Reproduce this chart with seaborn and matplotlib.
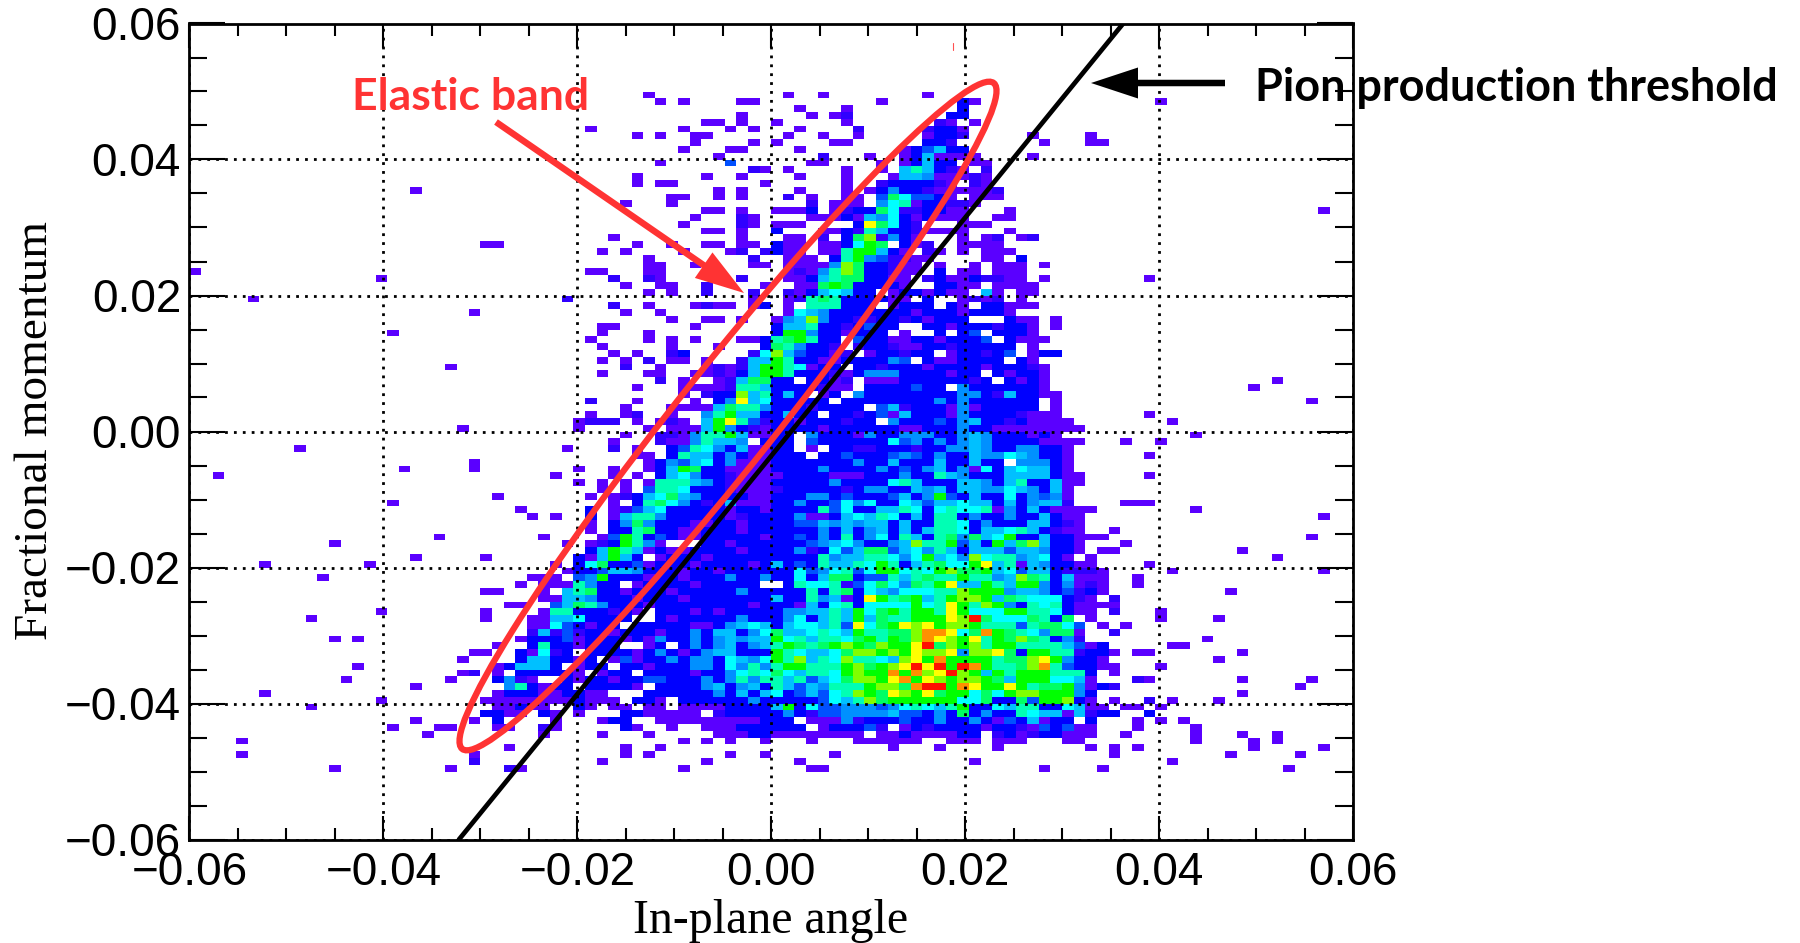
import numpy as np
import matplotlib
matplotlib.use('Agg')
import matplotlib.pyplot as plt
from matplotlib.colors import ListedColormap
from matplotlib.patches import Ellipse, FancyArrow
from matplotlib.ticker import MultipleLocator
import seaborn as sns

# 2D histogram, 100 x bins (0.0012) by 120 y bins (0.001)
# each string: rows from the top, columns 30-79 in groups of ten, hex colour level, . = empty
upper_rows = [
    ".........1 . .1..1..... ...1......",
    ". 1.1....11. .........1 ......31..",
    ". . ..1...1... ......3...",
    ". .......1.. ...1.12... .....33...",
    ". ....11.1.. 1.....1... ....21.1..",
    "....1..... ..1...1.1. ..1....2.. ...2331...",
    "........1. 1..11..... .1..1..1.. ...1332... ..1....1",
    ". ...1....1. 1....11... ...332.... ...1...11",
    ". ..1...11.. ..1....... .134633...",
    ". .....1.... ....2...1. .1361111.. ..1",
    ". 1.....4... ...11....1 .13633.11.",
    ". ........21 .1....1..1 .686321.2.",
    "........1. ....1..1.. ..1...1... 166511121.",
    "........1. 11.......1 ......1..2 333321.21.",
    ". .....1.1.. ..1...1.13 5332111112",
    ". .11..1.1.. .2.1..11.4 974431.111",
    ".......1.. .1........ ...2.111.5 78133221..",
    ". ....11.1.. 1113.12339 7223311... 1",
    ". ...1...21. ...1113165 7313111..1 1",
    ". ..1....21. 111....3c9 732...111.",
    ". ....11.1.. 3...113286 3321111... 1",
    "......1... .......1.. .11.2.39b2 531...1.12 .12",
    "........1. .1..11.11. 311.1137a9 .312..1111",
    ".....1.1.. ..1...12.2 311.118aa6 31.21.1.11 1",
    ".........1 ........2. .111.38a54 2211....11 .3",
    ".........1 1..1....11 .11115b933 211.1..1.1 11.1",
    "....11...1 1......... .12158b933 211.3.11.1 11",
    "......2..2 1......2.. .113689933 11.2311322 11.1",
    ".......1.. 11..2....1 ..119a9333 31..3311.1 111",
    ".........1 .1..2...2. .21367633. 1331311.61 .11",
]
middle_rows = [
    "..2....... ........1. .128983333 11.3..1212 .1",
    "......2..1 ...1211.13 .1.888333. 1333.31.33 111",
    ".......1.. 1......... .176533333 3313331333 1",
    ". .1..11.1.. 156b533223 3231333... 311.1",
    ".....11... ...1...... 3668332343 3..3313332 331.1",
    ".....1...1 . 3aa5331333 .1..3.34.3 331",
    "....1....1 .1.1...113 89a833.433 113313334. 3111",
    ".....1.... .1...1...3 985332.233 2113323333 3.1",
    "......1.1. .23.....27 b643312.13 3233.13323 4.133",
    ".....1.1.2 .11.1..266 a833113333 54.3113333 .31",
    ".......2.. 1...12126a a87133.332 3331333313 3321",
    ".....1...1 1..112136a a833321355 53333133.3 1331",
    ". 2.1..12699 33.3312.11 133333323. 3131",
    "........1. ..11112886 3333211.33 33433.5333 3331",
    ". ..1.233b68 363.13.533 3333335532 63311",
    "....2...1. ...1.35c67 33333.3333 3333535333 333.1",
    ".......1.. .111169885 33323333.4 6233315133 333.1",
    "....1..12. .1..58a663 3633.33234 1633315333 32111",
    "...1222.1. 121.6ac842 331333233. 5333435633 231111",
    "...1.....1 .1116a5321 3333133333 3113335331 1111111",
    ".......1.. 221588a611 33.5333153 3555335653 33131",
    "......1... 21158665.3 33.4333333 7453535653 3331111",
    "..1...2.1. .348753611 33.1.33223 3323355653 355331",
    "........11 .386635311 333.334333 4543533655 765331",
    ".........1 3546735111 3333333533 6333633633 .55531",
    "...1..1..1 36a9331111 3333533335 3435635173 676631",
    ".1....1.1. 3675332111 1333311133 3533865333 6666311",
    "...1.1.1.1 8886532111 3333353333 7863336653 6833611",
    ".....1.1.4 8873332111 2333332355 3365636655 765361",
    "....1.1236 7965333311 3335534333 4635a43633 735451",
]
lower_rows = [
    "......1.38 9753236111 3353347573 3764667663 635662",
    "....3.1246 7333331331 3333847336 6873787781 53631111",
    ".1..3.1688 5333331233 3351136768 7363883533 5336311",
    "....1.3595 3331133133 3344656566 3633887353 3366321",
    "....1.3389 3311333133 3333536356 3636887366 7863211..1",
    "1....14a83 4311333331 3343538357 3863895967 a33633111",
    "..1.123a85 1...331333 3334567533 56b88a463a 69b6331",
    "....36a861 3113333133 3352374699 4675863666 4665331.11",
    "...316a63. 1333133333 3333856688 757a675b78 856731.1",
    ".1.3793341 3331333313 634386687a 8368977ac6 81653311",
    "..13346653 3313313333 337457847a a787ab99a6 746632221",
    "11.45a3331 3313335335 3373699344 868988a885 6b9836111",
    "1118533.13 333133333. .387782479 7598ac66a8 6aa535121",
    "1.68933133 3133333533 3338389376 577788baaa 566534231",
    "1166533313 3313333333 63385613ca 89a68abba6 98777321.2",
    ".469853331 3333333313 3316378377 77a78ca8ba 5387831111",
    "188333231. 3331313333 3556686a79 a8aa8ca777 aa887311.2",
    "16673333.. 3133333533 3573686a69 88aaacbe97 779839.1",
    "1743133.33 3331135676 3677684c79 acbcabba88 8489974.1.",
    "6242331333 1335366357 9667876a88 99bddc79da 9875991..2",
    "3341333131 5335356566 a7868879a8 a9bdcbac8a 9b98352",
    "8331333..1 3.35356356 8a989aba9b aace9bab8a a88886413",
    "723.333313 5313566333 a876679bba bacbbc5bbc 93aa882331",
    "63313.1413 3535537657 a8b687b887 6bcadaaaa8 99bca5331",
    "63.133.331 3335537585 8aa888ab9a bceceaeda8 89bd843311",
    "3331.133.3 3331335787 976887abaa dadbceba6a 8aaa8883.1",
    "..31331334 4333535858 8684679bba cdacbabba9 6aaa7761",
    "133.33331. 3333563563 86465888ab b9deeadcaa ca899a5132",
    "113311...3 3333353636 7346478ba9 cbac9aa797 abbaaa53",
    "1113111.33 1.33333353 33334768b9 aaaaaa7793 394aab31.1",
    "1..31.11.1 1.11113333 6a37445554 578768a337 688337611",
    "31.1...331 1111.23333 3532445555 6443539353 3876616233",
    ".1...133.. 1111111113 33.1115233 3433533531 436133.3",
    "21.....31. .1..111333 333.133342 .132333313 32143411",
    "1....1...1 .....11133 11111111.1 13111133.2 31233111",
    ". ..1.1.1..1 ...1...111 111..111.1 11...11",
    ".......1.. 1......... . 1...1....1 .......1.1",
    ".......1.1 ......1..1 .....1.... . .........1",
    ".....1.... ....1..... ..1....... .......1..",
    ". ..1....... ...11..... . ...1....1.",
]
first_row = 10

# bins outside columns 30-79
left_col = [19, 25, 26, 0, 16, 5, 24, 17, 22, 23, 9, 24, 18, 24, 2, 26, 17, 28, 29, 21, 12, 19, 25, 6, 15,
            29, 11, 28, 25, 26, 27, 28, 16, 25, 25, 10, 29, 29, 12, 14, 28, 29, 29, 26, 29, 24, 25, 28, 29,
            23, 28, 29, 14, 26, 27, 28, 29, 23, 24, 26, 28, 29, 13, 22, 26, 27, 28, 29, 19, 27, 28, 29, 6,
            26, 27, 28, 29, 16, 25, 26, 27, 28, 29, 10, 26, 27, 28, 29, 25, 26, 27, 28, 19, 24, 26, 17, 21,
            22, 26, 27, 20, 4, 27, 4, 24, 24, 12, 22, 27, 28]
left_row = [24, 32, 32, 36, 37, 40, 42, 45, 50, 59, 62, 64, 65, 65, 66, 69, 70, 71, 72, 75, 76, 78, 78, 79, 79,
            81, 81, 82, 83, 83, 85, 85, 86, 86, 87, 87, 87, 88, 90, 90, 90, 90, 89, 91, 91, 92, 92, 92, 92,
            93, 93, 93, 94, 94, 94, 94, 94, 95, 95, 95, 95, 95, 96, 96, 96, 96, 96, 96, 97, 97, 97, 97, 98,
            98, 98, 98, 98, 99, 99, 99, 99, 99, 99, 100, 100, 100, 100, 100, 101, 101, 101, 101, 102, 102, 102, 103, 103,
            103, 103, 103, 104, 105, 106, 107, 107, 108, 109, 109, 109, 109]
left_level = [1, 1, 1, 1, 1, 1, 1, 1, 1, 1, 1, 1, 1, 1, 1, 1, 1, 1, 1, 1, 1, 1, 1, 1, 1,
              1, 1, 1, 1, 1, 1, 1, 1, 1, 1, 1, 1, 1, 1, 1, 1, 3, 2, 1, 3, 1, 1, 3, 1,
              1, 3, 6, 1, 1, 3, 6, 6, 1, 2, 1, 3, 3, 1, 1, 3, 5, 2, 1, 1, 5, 8, 3, 1,
              1, 3, 3, 3, 1, 1, 1, 1, 1, 1, 1, 1, 1, 3, 1, 3, 3, 1, 1, 1, 1, 3, 1, 1,
              1, 1, 1, 1, 1, 1, 1, 1, 2, 1, 1, 2, 1]

right_col = [83, 97, 82, 86, 84, 82, 96, 91, 93, 80, 83, 82, 82, 80, 81, 82, 86, 97, 96, 80, 90, 93, 82, 84, 97,
             81, 81, 89, 83, 83, 88, 80, 87, 84, 85, 81, 82, 90, 88, 83, 81, 82, 90, 96, 95, 90, 82, 84, 88,
             80, 81, 83, 82, 81, 83, 85, 81, 86, 80, 86, 90, 93, 86, 91, 93, 81, 91, 97, 89, 95, 84, 94]
right_row = [11, 27, 37, 60, 58, 57, 55, 53, 52, 61, 61, 63, 66, 70, 70, 70, 71, 72, 75, 76, 77, 78, 79, 80, 80,
             81, 82, 83, 86, 87, 87, 88, 90, 91, 91, 92, 92, 92, 93, 94, 96, 96, 96, 96, 97, 98, 99, 99, 99,
             100, 100, 100, 101, 102, 102, 102, 103, 103, 104, 104, 104, 104, 105, 105, 105, 106, 106, 106, 107, 107, 108, 109]
right_level = [1] * 40 + [2] + [1] * 5 + [2] + [1] * 5 + [3] + [1] * 19

level_colors = ['#5a00ff', '#3000ff', '#0000ff', '#0050ff', '#0090ff', '#00c0ff', '#00ffff',
                '#00ffb4', '#00ff64', '#00ff00', '#80ff00', '#ffff00', '#ff9000', '#ff1000']

threshold_x = [-0.0322, 0.0363]
threshold_y = [-0.06, 0.06]
tick_values = [-0.06, -0.04, -0.02, 0.00, 0.02, 0.04, 0.06]
tick_labels = ['\u22120.06', '\u22120.04', '\u22120.02', '0.00', '0.02', '0.04', '0.06']

sns.set_style('white')
plt.rcParams['font.family'] = ['Liberation Sans', 'DejaVu Sans']

# fill the grid
counts = np.zeros((120, 100), dtype=int)
for r, row in enumerate(upper_rows + middle_rows + lower_rows):
    for g, group in enumerate(row.split(' ')):
        for k, ch in enumerate(group[:10]):
            if ch != '.':
                counts[first_row + r, 30 + 10 * g + k] = int(ch, 16)
for c, r, v in zip(left_col + right_col, left_row + right_row, left_level + right_level):
    counts[r, c] = v

fig = plt.figure(figsize=(18, 9.43), dpi=100)
rect = [189.4 / 1800, (943 - 839.5) / 943, 1163.6 / 1800, 816 / 943]

ax_hist = fig.add_axes(rect)
sns.heatmap(counts, mask=counts == 0, cmap=ListedColormap(level_colors), vmin=0.5, vmax=14.5,
            cbar=False, xticklabels=False, yticklabels=False, ax=ax_hist)
ax_hist.axis('off')

ax = fig.add_axes(rect, facecolor='none')
sns.lineplot(x=threshold_x, y=threshold_y, color='black', lw=3.4, ax=ax)
ax.plot([0.0188, 0.0188], [0.0571, 0.0561], color='#ff5050', lw=0.8)
ax.set_xlim(-0.06, 0.06)
ax.set_ylim(-0.06, 0.06)
ax.set_xticks(tick_values)
ax.set_xticklabels(tick_labels, fontsize=33, color='black')
ax.set_yticks(tick_values)
ax.set_yticklabels(tick_labels, fontsize=33, color='black')
ax.xaxis.set_minor_locator(MultipleLocator(0.005))
ax.yaxis.set_minor_locator(MultipleLocator(0.005))
ax.tick_params(axis='x', which='major', direction='in', length=17, width=1.5, color='black', top=True, bottom=True, pad=8)
ax.tick_params(axis='x', which='minor', direction='in', length=8.6, width=1.5, color='black', top=True, bottom=True)
ax.tick_params(axis='y', which='major', direction='in', length=26, width=1.5, color='black', left=True, right=True, pad=6)
ax.tick_params(axis='y', which='minor', direction='in', length=13, width=1.5, color='black', left=True, right=True)
ax.grid(True, which='major', color='black', linestyle=(0, (1, 2.2)), linewidth=2)
for spine in ax.spines.values():
    spine.set_linewidth(2)
    spine.set_color('black')
fig.text(771 / 1800, 1 - 921 / 943, 'In-plane angle', family='Liberation Serif', fontsize=34.5, color='black',
         ha='center', va='center')
fig.text(36 / 1800, 1 - 431 / 943, 'Fractional momentum', family='Liberation Serif', fontsize=34, color='black',
         rotation=90, ha='center', va='center')

# annotations sit on a layer in figure pixels
over = fig.add_axes([0, 0, 1, 1], facecolor='none')
over.set_xlim(0, 1800)
over.set_ylim(943, 0)
over.axis('off')
red = '#ff3333'
over.add_patch(Ellipse((728, 416), 852, 98, angle=-51.4, fill=False, edgecolor=red, lw=4.5))
over.add_patch(FancyArrow(496, 122, 248, 171, width=6.5, head_width=31, head_length=49,
                          length_includes_head=True, color=red, lw=0))
over.add_patch(FancyArrow(1225, 83, -134, 0, width=6.5, head_width=31, head_length=47,
                          length_includes_head=True, color='black', lw=0))
over.text(352, 97, 'Elastic band', family='Lato', weight='bold', fontsize=32, color=red, ha='left', va='center')
over.text(1255, 88, 'Pion production threshold', family='Lato', weight='bold', fontsize=32.4, color='black',
          ha='left', va='center')

fig.savefig('out.png', dpi=100)
